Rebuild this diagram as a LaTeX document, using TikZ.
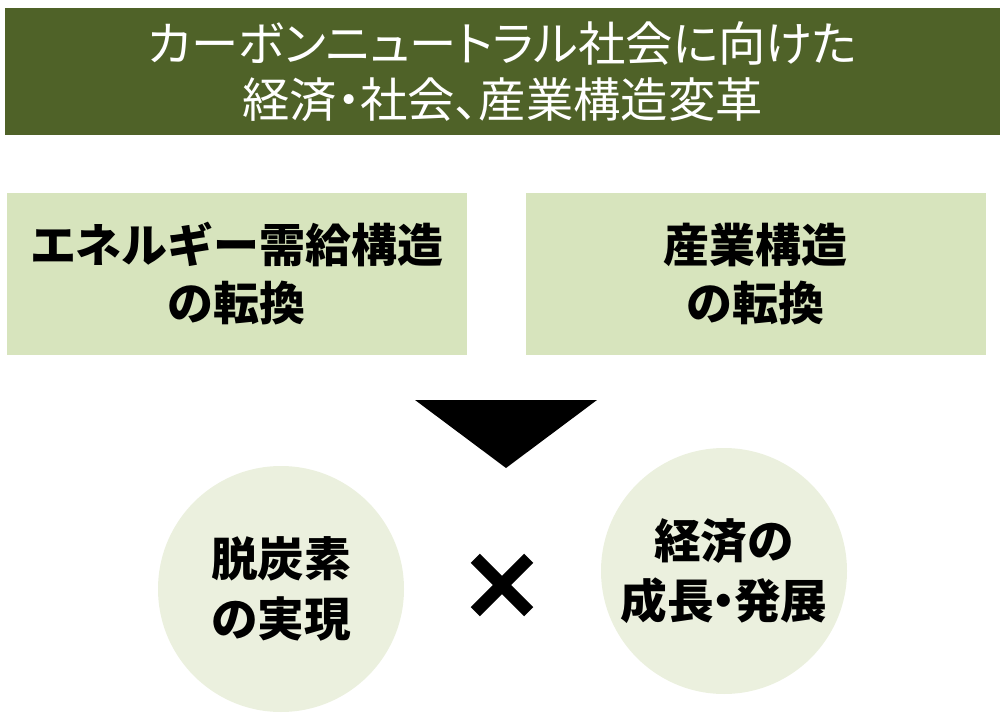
\documentclass[tikz,border=0pt]{standalone}
\usepackage{fontspec}
\setmainfont{Noto Sans CJK JP}
\newfontfamily\headfont[RawFeature=+palt]{Noto Sans CJK JP}
\usepackage{tikz}
\usetikzlibrary{shapes.misc}
\definecolor{HeadGreen}{HTML}{4F6228}
\definecolor{BoxGreen}{HTML}{D7E4BD}
\definecolor{CircGreen}{HTML}{EBF0DE}
% Narrow middle dot
\newcommand{\ndot}{\kern-0.28em・\kern-0.28em}

\begin{document}
\begin{tikzpicture}[x=0.75pt, y=-0.75pt]

    % Page frame
    \useasboundingbox (0, 0) rectangle (1000, 720);

    % Header
    \tikzset{hS/.style={fill = HeadGreen, text = white, inner sep = 0pt, minimum width = 746.25pt, minimum height = 95.25pt, align = center, font = \headfont\fontsize{35.5pt}{42pt}\selectfont}}

    % Transformation boxes
    \tikzset{bS/.style={fill = BoxGreen, text = black, inner sep = 0pt, minimum width = 345pt, minimum height = 121.5pt, align = center, font = \fontsize{34.5pt}{43.5pt}\selectfont\bfseries}}

    % Goal circles
    \tikzset{cS/.style={circle, fill = CircGreen, text = black, inner sep = 0pt, minimum size = 184.5pt, align = center, font = \fontsize{35pt}{45pt}\selectfont\bfseries}}

    % Symbols
    \tikzset{xS/.style={cross out, draw = black, line width = 9.75pt, inner sep = 0pt, outer sep = 0pt, minimum size = 40pt}}

    % Header node
    \node (head) [hS] at (502.5, 71.5) {カーボンニュートラル社会に向けた\\経済・社会、産業構造変革};

    % Boxes
    \node (energy) [bS] at (237, 274) {エネルギー需給構造\\の転換};
    \node (industry) [bS] at (755.5, 274) {産業構造\\の転換};

    % Down triangle
    \fill[black] (415, 400) -- (597, 400) -- (506, 468) -- cycle;

    % Circles
    \node (decarb) [cS] at (281, 589) {脱炭素\\の実現};
    \node (times) [xS] at (502, 585) {};
    \node (growth) [cS] at (724, 571) {経済の\\成長\ndot 発展};

\end{tikzpicture}
\end{document}
